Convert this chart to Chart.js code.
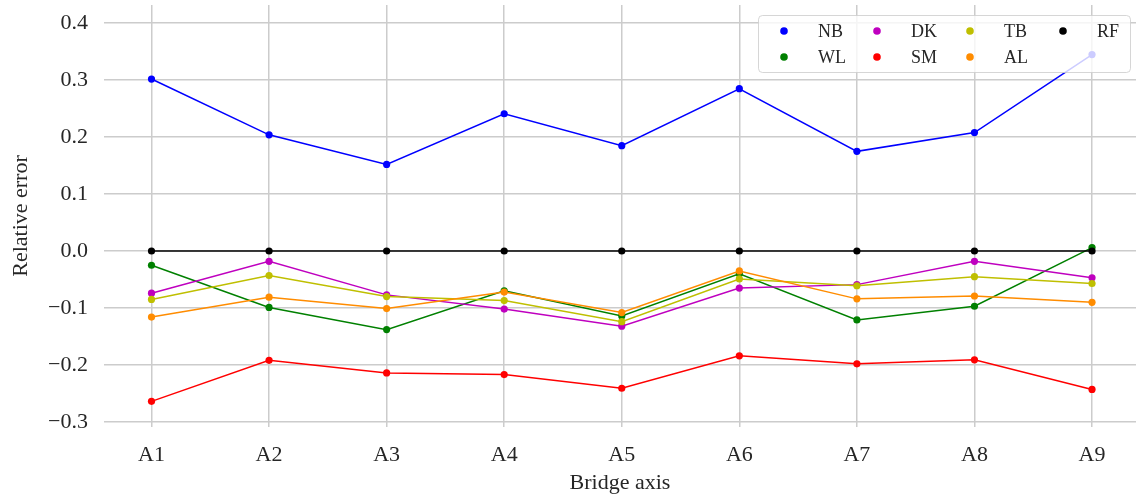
<!DOCTYPE html>
<html>
<head>
<meta charset="utf-8">
<script src="https://cdn.jsdelivr.net/npm/chart.js@4.4.1/dist/chart.umd.min.js"></script>
<style>
  html, body { margin: 0; padding: 0; background: #ffffff; }
  canvas { display: block; }
</style>
</head>
<body>
<canvas id="chart" width="1136" height="500"></canvas>
<script>
// Bridge axes along the x axis
const axes = ['A1', 'A2', 'A3', 'A4', 'A5', 'A6', 'A7', 'A8', 'A9'];
// Relative error tick values
const yTickValues = [-0.3, -0.2, -0.1, 0.0, 0.1, 0.2, 0.3, 0.4];

// Relative error per method at each bridge axis
const NB = [0.302, 0.204, 0.152, 0.241, 0.185, 0.285, 0.175, 0.208, 0.345];
const WL = [-0.025, -0.099, -0.138, -0.070, -0.114, -0.040, -0.121, -0.097, 0.006];
const DK = [-0.074, -0.018, -0.077, -0.102, -0.132, -0.065, -0.059, -0.018, -0.047];
const SM = [-0.264, -0.192, -0.214, -0.217, -0.241, -0.184, -0.198, -0.191, -0.243];
const TB = [-0.085, -0.043, -0.080, -0.087, -0.124, -0.049, -0.061, -0.045, -0.057];
const AL = [-0.116, -0.081, -0.101, -0.072, -0.108, -0.035, -0.084, -0.079, -0.090];
const RF = [0, 0, 0, 0, 0, 0, 0, 0, 0];

const seriesNames  = ['NB', 'WL', 'DK', 'SM', 'TB', 'AL', 'RF'];
const seriesValues = [NB, WL, DK, SM, TB, AL, RF];
const seriesColors = ['#0000ff', '#008000', '#bf00bf', '#ff0000', '#bfbf00', '#ff8c00', '#000000'];

const FONT = "'Liberation Serif', 'DejaVu Serif', serif";
const TEXT = '#262626';
const GRID = '#cccccc';

Chart.defaults.font.family = FONT;
Chart.defaults.color = TEXT;

const datasets = seriesNames.map((name, k) => ({
  label: name,
  data: seriesValues[k].map((v, i) => ({ x: i, y: v })),
  borderColor: seriesColors[k],
  backgroundColor: seriesColors[k],
  pointBackgroundColor: seriesColors[k],
  pointBorderWidth: 0,
  pointRadius: 3.6,
  borderWidth: 1.5,
  fill: false,
  tension: 0,
  clip: false,
  order: seriesNames.length - k   // later series are painted on top
}));

const fmt = v => {
  const s = Math.abs(v).toFixed(1);
  return v < -1e-9 ? '\u2212' + s : s;
};

// Two-row, column-major legend box in the upper right corner
const legendBox = {
  id: 'legendBox',
  afterDatasetsDraw(chart) {
    const ctx = chart.ctx;
    const area = chart.chartArea;
    const w = 372, h = 57;
    const x0 = chart.width - 378, y0 = area.top + 10;
    ctx.save();
    ctx.beginPath();
    ctx.roundRect(x0 + 0.5, y0 + 0.5, w, h, 4);
    ctx.fillStyle = 'rgba(255,255,255,0.8)';
    ctx.fill();
    ctx.strokeStyle = 'rgba(204,204,204,0.8)';
    ctx.lineWidth = 1;
    ctx.stroke();
    const colStep = 93;
    const rowStep = 26;
    ctx.font = '18px ' + FONT;
    ctx.textBaseline = 'middle';
    ctx.textAlign = 'left';
    seriesNames.forEach((name, k) => {
      const col = Math.floor(k / 2), row = k % 2;
      const cy = y0 + 16 + row * rowStep;
      const mx = x0 + 26 + col * colStep;
      ctx.beginPath();
      ctx.arc(mx, cy, 3.8, 0, Math.PI * 2);
      ctx.fillStyle = seriesColors[k];
      ctx.fill();
      ctx.fillStyle = TEXT;
      ctx.fillText(name, mx + 34, cy + 1);
    });
    ctx.restore();
  }
};

new Chart(document.getElementById('chart'), {
  type: 'line',
  data: { datasets },
  plugins: [legendBox],
  options: {
    responsive: false,
    animation: false,
    layout: { autoPadding: false, padding: { top: 5, right: 0, bottom: 0, left: 0 } },
    plugins: {
      legend: { display: false },
      tooltip: { enabled: false }
    },
    scales: {
      x: {
        type: 'linear',
        min: -0.404,
        max: 8.374,
        afterBuildTicks: s => { s.ticks = axes.map((_, i) => ({ value: i })); },
        afterFit: s => { s.height = 73; s.paddingLeft = 0; s.paddingRight = 0; },
        border: { display: false },
        grid: { color: GRID, lineWidth: 1.5, drawTicks: false },
        ticks: {
          padding: 15,
          font: { size: 22 },
          color: TEXT,
          callback: v => axes[v]
        },
        title: {
          display: true,
          text: 'Bridge axis',
          font: { size: 22 },
          color: TEXT,
          padding: { top: 0, bottom: 4 }
        }
      },
      y: {
        type: 'linear',
        min: -0.309,
        max: 0.432,
        afterBuildTicks: s => { s.ticks = yTickValues.map(v => ({ value: v })); },
        afterFit: s => { s.width = 104; s.paddingTop = 0; s.paddingBottom = 0; },
        border: { display: false },
        grid: { color: GRID, lineWidth: 1.5, drawTicks: false },
        ticks: {
          padding: 16,
          font: { size: 22 },
          color: TEXT,
          callback: v => fmt(v)
        },
        title: {
          display: true,
          text: 'Relative error',
          font: { size: 22 },
          color: TEXT,
          padding: { top: 8, bottom: 0 }
        }
      }
    }
  }
});
</script>
</body>
</html>
